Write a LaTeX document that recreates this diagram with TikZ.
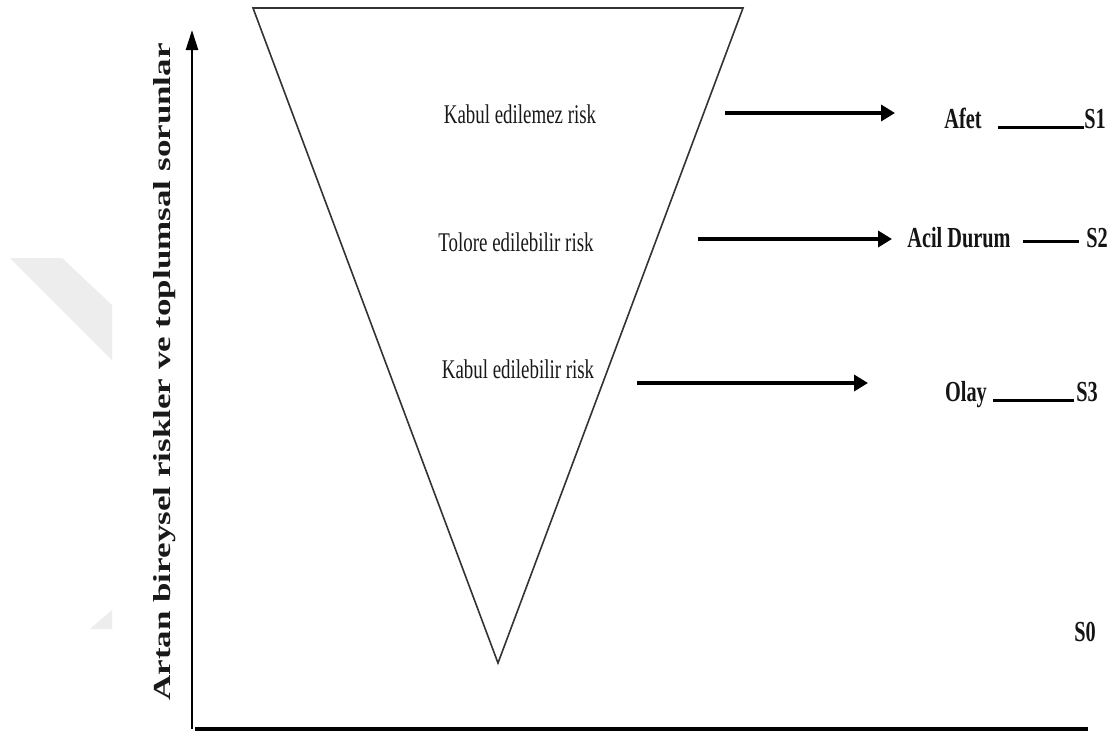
\documentclass[tikz,border=0pt]{standalone}
\usepackage{fontspec}
\setmainfont{Liberation Serif}
\usetikzlibrary{arrows.meta}
\newcommand{\hsq}[1]{\scalebox{0.7}[1]{#1}}
\newcommand{\vsq}[1]{\scalebox{1}[0.7]{#1}}
\begin{document}
\begin{tikzpicture}[x=1pt,y=-1pt,
  txt/.style={inner sep=0pt, anchor=base, text=black!90, font=\fontsize{27}{30}\selectfont},
  btxt/.style={inner sep=0pt, anchor=base, text=black!92, font=\bfseries\fontsize{29}{32}\selectfont},
  level/.style={line width=3.5pt, -{Triangle[length=14pt,width=16pt]}},
  uline/.style={line width=3pt},
  axis/.style={line width=2.5pt},
  funnel/.style={line width=1.6pt, draw=black!80, line join=miter}]
\useasboundingbox (0,0) rectangle (1116,734);
\fill[white] (0,0) rectangle (1116,734);

% faint background mark at the left edge
\fill[black!7] (10,258) -- (62,258) -- (112,305) -- (112,360) -- cycle;
\fill[black!7] (90,629) -- (112,610) -- (112,629) -- cycle;

% axes
\coordinate (o) at (192,729);
\coordinate (ytop) at (192,30);
\coordinate (xend) at (1088,729);
\draw[axis, -{Triangle[length=20pt,width=12pt]}] (o) -- (ytop);
\draw[line width=4pt] ([xshift=3pt]o) -- (xend);
\node[rotate=90, inner sep=0pt, text=black!90, font=\bfseries\fontsize{35}{38}\selectfont]
  (ylab) at (165,372) {\vsq{Artan bireysel riskler ve toplumsal sorunlar}};

% inverted risk triangle
\coordinate (tl) at (253,8);
\coordinate (tr) at (743,8);
\coordinate (tb) at (498,663);
\draw[funnel] (tl) -- (tr) -- (tb) -- cycle;

% risk levels inside the triangle
\node[txt] (k1) at (520,123) {\hsq{Kabul edilemez risk}};
\node[txt] (k2) at (516,251) {\hsq{Tolore edilebilir risk}};
\node[txt] (k3) at (518,378) {\hsq{Kabul edilebilir risk}};

% outcomes on the right
\node[btxt] (afet) at (963,128) {\hsq{Afet}};
\node[btxt] (s1) at (1095,128) {\hsq{S1}};
\node[btxt] (acil) at (959,247) {\hsq{Acil Durum}};
\node[btxt] (s2) at (1097,247) {\hsq{S2}};
\node[btxt] (olay) at (966,401) {\hsq{Olay}};
\node[btxt] (s3) at (1087,401) {\hsq{S3}};
\node[btxt] (s0) at (1085,641) {\hsq{S0}};

% arrows from risk levels to outcomes
\coordinate (a1s) at (725,113);
\coordinate (a1e) at (895,113);
\coordinate (a2s) at (698,239);
\coordinate (a2e) at (892,239);
\coordinate (a3s) at (637,383);
\coordinate (a3e) at (868,383);
\draw[level] (a1s) -- (a1e);
\draw[level] (a2s) -- (a2e);
\draw[level] (a3s) -- (a3e);

% links to the stage labels
\draw[uline] ([xshift=16pt,yshift=1pt]afet.base east) -- ([yshift=1pt]s1.base west);
\draw[uline] ([xshift=12pt,yshift=6pt]acil.base east) -- ([xshift=-7pt,yshift=6pt]s2.base west);
\draw[uline] ([xshift=6pt,yshift=1pt]olay.base east) -- ([xshift=-2pt,yshift=1pt]s3.base west);
\end{tikzpicture}
\end{document}
